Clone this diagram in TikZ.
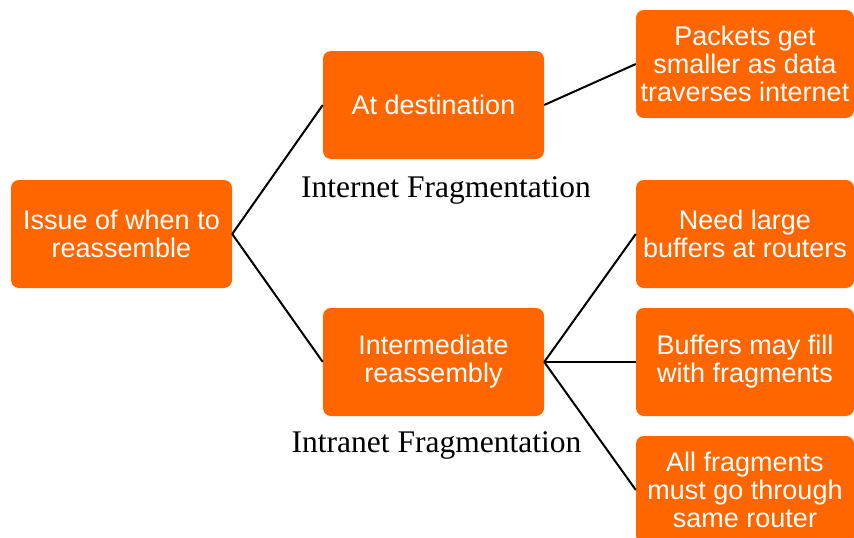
\documentclass[tikz,border=0pt]{standalone}
\usepackage{fontspec}
\setmainfont{Liberation Serif}
\newfontfamily\boxfont{Liberation Sans}
\definecolor{boxorange}{RGB}{255,102,0}
\tikzset{
  box/.style={rectangle, rounded corners=8pt, fill=boxorange, text=white,
    minimum width=221pt, minimum height=108pt, inner sep=0pt, align=center,
    font=\boxfont\fontsize{27}{28}\selectfont},
  leafbox/.style={box, minimum width=218pt},
  caption/.style={anchor=base, font=\fontsize{31.5}{34}\selectfont}
}
\begin{document}
\begin{tikzpicture}[x=1pt,y=-1pt]
      \useasboundingbox (0,0) rectangle (854,538);

      \begin{scope}[every node/.style={box}]
        \node (issue)  at (121.5,234) {Issue of when to\\reassemble};
        \node (dest)   at (433.5,105) {At destination};
        \node (inter)  at (433.5,362) {Intermediate\\reassembly};
      \end{scope}

      \begin{scope}[every node/.style={leafbox}]
        \node (smaller) at (745,64)  {Packets get\\smaller as data\\traverses internet};
        \node (large)   at (745,234) {Need large\\buffers at routers};
        \node (fill)    at (745,362) {Buffers may fill\\with fragments};
        \node (same)    at (745,490) {All fragments\\must go through\\same router};
      \end{scope}

      \node[caption] (internet) at (446,197) {Internet Fragmentation};
      \node[caption] (intranet) at (436.5,452) {Intranet Fragmentation};

      \begin{scope}[every edge/.style={draw, line width=2pt}]
        \path (issue.east) edge (dest.west);
        \path (issue.east) edge (inter.west);
        \path (dest.east)  edge (smaller.west);
        \path (inter.east) edge (large.west);
        \path (inter.east) edge (fill.west);
        \path (inter.east) edge (same.west);
      \end{scope}

    \end{tikzpicture}
\end{document}
